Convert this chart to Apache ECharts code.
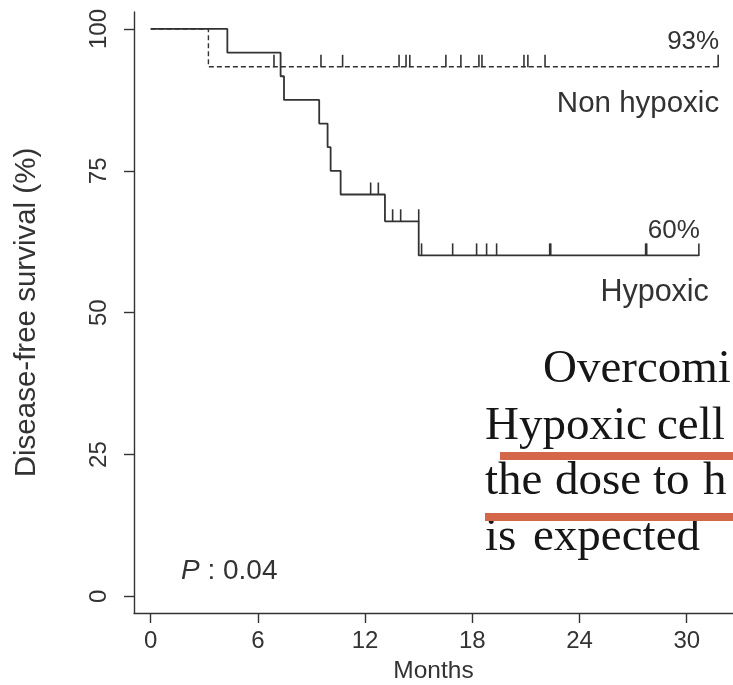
<!DOCTYPE html>
<html>
<head>
<meta charset="utf-8">
<script src="https://cdn.jsdelivr.net/npm/echarts@6/dist/echarts.min.js"></script>
<style>
  html, body { margin: 0; padding: 0; background: #fff; }
  #chart { width: 733px; height: 685px; }
</style>
</head>
<body>
<div id="chart"></div>
<script>
// Axis ticks
const xTicks = [0, 6, 12, 18, 24, 30];
const yTicks = [0, 25, 50, 75, 100];

// Hypoxic group: step times (months) and survival after each step (%)
const hypoxicTime = [0, 4.29, 7.27, 7.46, 9.43, 9.9, 10.07, 10.63, 13.11, 15.0, 30.68];
const hypoxicSurv = [100, 95.83, 91.67, 87.5, 83.33, 79.17, 75.0, 70.83, 66.11, 60.1, 60.1];
// Hypoxic group: censored observations
const hypoxicCensorTime = [12.31, 12.74, 13.54, 13.99, 15.0, 15.16, 16.9, 18.24, 18.8, 19.36, 22.33, 22.39, 27.7, 27.76, 30.68];
const hypoxicCensorSurv = [70.83, 70.83, 66.11, 66.11, 66.11, 60.1, 60.1, 60.1, 60.1, 60.1, 60.1, 60.1, 60.1, 60.1, 60.1];

// Non hypoxic group
const nonHypoxicTime = [0, 3.23, 31.76];
const nonHypoxicSurv = [100, 93.33, 93.33];
const nonHypoxicCensorTime = [6.9, 9.53, 10.74, 13.9, 14.29, 14.5, 16.52, 17.36, 18.37, 18.54, 20.89, 21.11, 22.07, 31.76];
const nonHypoxicCensorSurv = [93.33, 93.33, 93.33, 93.33, 93.33, 93.33, 93.33, 93.33, 93.33, 93.33, 93.33, 93.33, 93.33, 93.33];

const groupNames = ['Non hypoxic', 'Hypoxic'];
const pValueText = ' : 0.04';

const INK = '#333';
const SANS = 'Liberation Sans, Arial, sans-serif';
const SERIF = 'Liberation Serif, Times New Roman, serif';

const zip = (a, b) => a.map((v, i) => [v, b[i]]);

// Short vertical censor marks rising from the curve
function censorSeries(times, survs) {
  return {
    type: 'custom',
    silent: true,
    z: 4,
    data: zip(times, survs),
    renderItem: function (params, api) {
      const p = api.coord([api.value(0), api.value(1)]);
      return {
        type: 'line',
        shape: { x1: p[0], y1: p[1] + 0.5, x2: p[0], y2: p[1] - 12 },
        style: { stroke: INK, lineWidth: 1.6 }
      };
    }
  };
}

const chart = echarts.init(document.getElementById('chart'), null, { renderer: 'canvas' });

const option = {
  animation: false,
  backgroundColor: '#fff',
  grid: { left: 134, right: 0, top: 12, bottom: 72, outerBoundsMode: 'none', containLabel: false },
  xAxis: {
    type: 'value',
    min: -0.935,
    max: 32.59,
    name: 'Months',
    nameLocation: 'middle',
    nameGap: 46,
    nameMoveOverlap: false,
    nameTextStyle: { fontFamily: SANS, fontSize: 24.5, color: INK },
    axisLine: { show: true, onZero: false, lineStyle: { color: INK, width: 1.4 } },
    axisTick: { show: true, customValues: xTicks, length: 10, lineStyle: { color: INK, width: 1.4 } },
    axisLabel: { customValues: xTicks, margin: 16, fontFamily: SANS, fontSize: 24, color: INK },
    splitLine: { show: false }
  },
  yAxis: {
    type: 'value',
    min: -2.92,
    max: 102.99,
    name: 'Disease-free survival (%)',
    nameLocation: 'middle',
    nameGap: 92,
    nameRotate: 90,
    nameMoveOverlap: false,
    nameTextStyle: { fontFamily: SANS, fontSize: 29.5, color: INK },
    axisLine: { show: true, onZero: false, lineStyle: { color: INK, width: 1.4 } },
    axisTick: { show: true, customValues: yTicks, length: 10, lineStyle: { color: INK, width: 1.4 } },
    axisLabel: { customValues: yTicks, rotate: 90, margin: 23, fontFamily: SANS, fontSize: 24, color: INK },
    splitLine: { show: false }
  },
  series: [
    {
      name: groupNames[0],
      type: 'line',
      step: 'end',
      showSymbol: false,
      silent: true,
      z: 3,
      lineStyle: { color: INK, width: 1.4, type: [5, 3] },
      data: zip(nonHypoxicTime, nonHypoxicSurv)
    },
    {
      name: groupNames[1],
      type: 'line',
      step: 'end',
      showSymbol: false,
      silent: true,
      z: 3,
      lineStyle: { color: INK, width: 1.8 },
      data: zip(hypoxicTime, hypoxicSurv)
    },
    censorSeries(nonHypoxicCensorTime, nonHypoxicCensorSurv),
    censorSeries(hypoxicCensorTime, hypoxicCensorSurv)
  ]
};

chart.setOption(option);

// End-of-curve annotations, anchored at each curve's final point
const nhEnd = chart.convertToPixel({ gridIndex: 0 }, [nonHypoxicTime[nonHypoxicTime.length - 1], nonHypoxicSurv[nonHypoxicSurv.length - 1]]);
const hEnd = chart.convertToPixel({ gridIndex: 0 }, [hypoxicTime[hypoxicTime.length - 1], hypoxicSurv[hypoxicSurv.length - 1]]);
const pct = v => Math.round(v) + '%';

const labelStyle = (text, size) => ({
  text: text, fontFamily: SANS, fontSize: size, fill: INK,
  align: 'right', verticalAlign: 'middle'
});

const serifWord = (text, x, baseline) => ({
  type: 'text', x: x, y: baseline - 15.5,
  style: { text: text, fontFamily: SERIF, fontSize: 47, fill: '#161616', verticalAlign: 'middle' }
});

chart.setOption({
  graphic: [
    { type: 'text', x: nhEnd[0] + 1, y: nhEnd[1] - 25, style: labelStyle(pct(nonHypoxicSurv[nonHypoxicSurv.length - 1]), 26) },
    { type: 'text', x: nhEnd[0] + 1, y: nhEnd[1] + 37, style: labelStyle(groupNames[0], 29.5) },
    { type: 'text', x: hEnd[0] + 1, y: hEnd[1] - 25, style: labelStyle(pct(hypoxicSurv[hypoxicSurv.length - 1]), 26) },
    { type: 'text', x: hEnd[0] + 10, y: hEnd[1] + 37, style: labelStyle(groupNames[1], 30.5) },
    {
      type: 'text', x: 181, y: 571,
      style: {
        text: '{i|P}{n|' + pValueText + '}',
        verticalAlign: 'middle',
        rich: {
          i: { fontFamily: SANS, fontSize: 28, fontStyle: 'italic', fill: INK },
          n: { fontFamily: SANS, fontSize: 28, fill: INK }
        }
      }
    },
    // Text excerpt with highlight rules
    serifWord('Overcomi', 543, 385),
    serifWord('Hypoxic', 485, 442),
    serifWord('cell', 657, 442),
    serifWord('the', 485, 497),
    serifWord('dose', 555, 497),
    serifWord('to', 653, 497),
    serifWord('h', 703, 497),
    serifWord('is', 485, 553),
    serifWord('expected', 533, 553),
    { type: 'rect', shape: { x: 500, y: 452, width: 240, height: 8 }, style: { fill: '#D4664A' } },
    { type: 'rect', shape: { x: 485, y: 513, width: 260, height: 8 }, style: { fill: '#D4664A' } }
  ]
});
</script>
</body>
</html>
